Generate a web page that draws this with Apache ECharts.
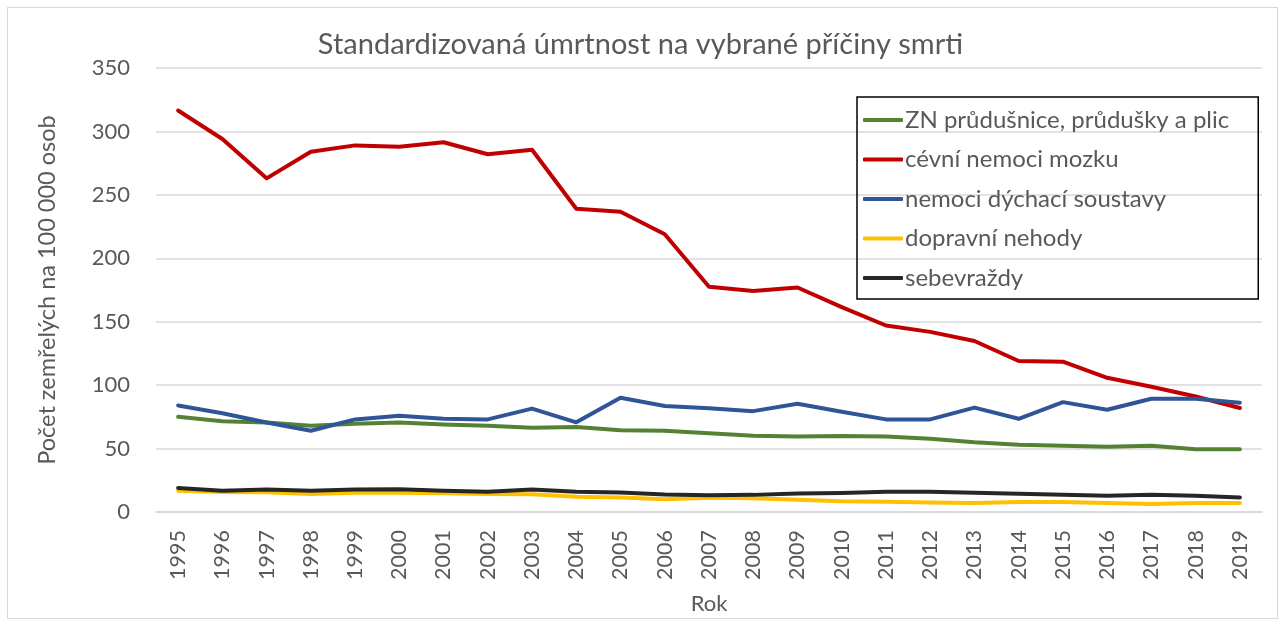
<!DOCTYPE html>
<html>
<head>
<meta charset="utf-8">
<script src="https://cdn.jsdelivr.net/npm/echarts@6/dist/echarts.min.js"></script>
<style>
  html, body { margin: 0; padding: 0; background: #fff; }
  #frame { position: absolute; left: 7px; top: 7px; width: 1271px; height: 612px; border: 1px solid #d9d9d9; box-sizing: border-box; }
  #chart { position: absolute; left: 0; top: 0; width: 1281px; height: 619px; }
</style>
</head>
<body>
<div id="frame"></div>
<div id="chart"></div>
<script>
const years = ['1995', '1996', '1997', '1998', '1999', '2000', '2001', '2002', '2003', '2004', '2005', '2006',
  '2007', '2008', '2009', '2010', '2011', '2012', '2013', '2014', '2015', '2016', '2017', '2018', '2019']

// ZN průdušnice, průdušky a plic
const zn = [75, 71.5, 70.5, 68, 69.5, 70.5, 69, 68, 66.5, 67, 64.5, 64, 62, 60.2, 59.5, 60, 59.5, 57.8, 55, 53, 52.3, 51.5, 52.3, 49.5, 49.5]
// cévní nemoci mozku
const cevni = [316.5, 294, 263, 284, 289, 288, 291.5, 282, 285.5, 239, 236.7, 219, 177.6, 174.2, 177, 161.5, 147, 142, 134.8, 119, 118.5, 105.8, 98.8, 91, 82]
// nemoci dýchací soustavy
const dychaci = [84, 77.8, 70.5, 64, 73, 75.8, 73.6, 73, 81.5, 70.7, 90, 83.6, 81.8, 79.5, 85.3, 79, 73, 73, 82.3, 73.5, 86.6, 80.6, 89.3, 89.3, 86.2]
// dopravní nehody
const dopravni = [16.8, 15.7, 15.5, 14.2, 15.2, 15.2, 14.7, 14.2, 13.9, 12.1, 11.4, 10.1, 11.2, 10.9, 9.6, 8.4, 8, 7.5, 7, 7.8, 7.8, 7, 6.4, 7, 7]
// sebevraždy
const sebevrazdy = [19, 16.8, 17.7, 16.8, 17.7, 18, 16.8, 16, 17.7, 16, 15.3, 13.8, 13.3, 13.5, 14.6, 15, 16, 16, 15.2, 14.4, 13.6, 12.9, 13.6, 12.9, 11.5]

const yTicks = { min: 0, max: 350, interval: 50 }

const FONT = 'Lato'
const GREY = '#595959'

const chart = echarts.init(document.getElementById('chart'))

const mkLine = (name, data, color) => ({
  name,
  type: 'line',
  data,
  showSymbol: false,
  symbol: 'none',
  lineStyle: { width: 4, color, cap: 'round', join: 'round' },
  itemStyle: { color },
  emphasis: { disabled: true }
})

chart.setOption({
  animation: false,
  textStyle: { fontFamily: FONT },
  title: {
    text: 'Standardizovaná úmrtnost na vybrané příčiny smrti',
    left: 'center',
    top: 25,
    textStyle: { fontFamily: FONT, fontSize: 29, fontWeight: 'normal', color: GREY }
  },
  legend: {
    orient: 'vertical',
    left: 857,
    top: 97,
    padding: [11, 29, 9, 6],
    borderColor: '#000',
    borderWidth: 1.5,
    icon: 'roundRect',
    itemWidth: 40,
    itemHeight: 4,
    itemGap: 15.5,
    textStyle: { fontFamily: FONT, fontSize: 24, color: GREY, padding: [0, 0, 0, -3], lineHeight: 24 },
    data: ['ZN průdušnice, průdušky a plic', 'cévní nemoci mozku', 'nemoci dýchací soustavy', 'dopravní nehody', 'sebevraždy']
  },
  grid: { left: 156, right: 19, top: 68, bottom: 107, outerBoundsMode: 'none' },
  xAxis: {
    type: 'category',
    data: years,
    boundaryGap: true,
    name: 'Rok',
    nameLocation: 'middle',
    nameGap: 81,
    nameTextStyle: { fontFamily: FONT, fontSize: 22, color: GREY },
    axisLine: { show: true, lineStyle: { color: '#d9d9d9', width: 1.5 } },
    axisTick: { show: false },
    axisLabel: { rotate: 90, margin: 18, fontFamily: FONT, fontSize: 21.5, color: GREY, interval: 0 }
  },
  yAxis: {
    type: 'value',
    min: yTicks.min,
    max: yTicks.max,
    interval: yTicks.interval,
    name: 'Počet zemřelých na 100 000 osob',
    nameLocation: 'middle',
    nameGap: 97,
    nameTextStyle: { fontFamily: FONT, fontSize: 23.5, color: GREY },
    axisLine: { show: false },
    axisTick: { show: false },
    axisLabel: { margin: 26, fontFamily: FONT, fontSize: 22, color: GREY },
    splitLine: { lineStyle: { color: '#d9d9d9', width: 1.5 } }
  },
  series: [
    mkLine('ZN průdušnice, průdušky a plic', zn, '#548235'),
    mkLine('cévní nemoci mozku', cevni, '#C00000'),
    mkLine('nemoci dýchací soustavy', dychaci, '#2F5597'),
    mkLine('dopravní nehody', dopravni, '#FFC000'),
    mkLine('sebevraždy', sebevrazdy, '#262626')
  ]
})

window.addEventListener('resize', () => {
  chart.resize()
})
</script>
</body>
</html>
